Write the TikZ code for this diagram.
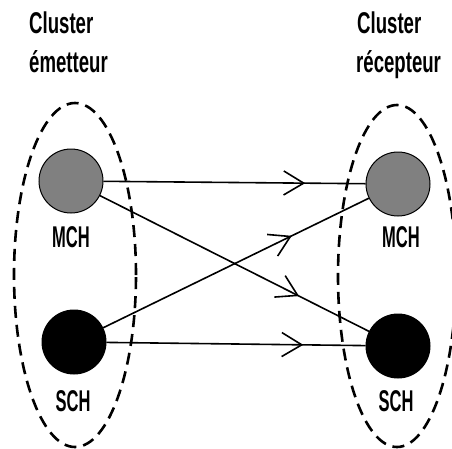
\documentclass[tikz,border=0pt]{standalone}
\usepackage{fontspec}
\setmainfont{Liberation Sans}
\newfontfamily\titlefont[FakeStretch=0.62]{Liberation Sans}
\newfontfamily\labelfont[FakeStretch=0.55]{Liberation Sans}
\usetikzlibrary{arrows.meta,decorations.markings}
\begin{document}
\begin{tikzpicture}[x=1pt,y=-1pt,
  cluster/.style={draw,line width=2.6pt,dash pattern=on 12pt off 7pt},
  mch/.style={circle,draw,line width=1pt,fill=black!50,minimum size=64pt,inner sep=0pt},
  sch/.style={circle,draw,line width=1pt,fill=black,minimum size=64pt,inner sep=0pt},
  ttl/.style={anchor=base west,inner sep=0pt,font=\titlefont\bfseries\fontsize{30}{33}\selectfont},
  lbl/.style={inner sep=0pt,font=\labelfont\bfseries\fontsize{30}{33}\selectfont},
  link/.style={line width=1.6pt,decoration={markings,mark=at position #1 with {\arrow{Straight Barb[length=20pt,width=24pt]}}},postaction=decorate}
]
\useasboundingbox (0,0) rectangle (452,448);
\draw[cluster] (75,275) ellipse [x radius=61pt, y radius=172pt];
\draw[cluster] (397,276) ellipse [x radius=59pt, y radius=171pt];
\node[ttl] (t1) at (29,33) {Cluster};
\node[ttl] (t2) at (29,72) {émetteur};
\node[ttl] (t3) at (357,33) {Cluster};
\node[ttl] (t4) at (356,72) {récepteur};
\node[mch] (lm) at (71,181) {};
\node[sch] (ls) at (74,342) {};
\node[mch] (rm) at (398,184) {};
\node[sch] (rs) at (398,346) {};
\node[lbl] (lml) at (71,237) {MCH};
\node[lbl] (lsl) at (73,401) {SCH};
\node[lbl] (rml) at (401,237) {MCH};
\node[lbl] (rsl) at (396,401) {SCH};
\draw[link=0.77] (lm) -- (rm);
\draw[link=0.76] (ls) -- (rs);
\draw[link=0.74] (lm) -- (rs);
\draw[link=0.71] (ls) -- (rm);
\end{tikzpicture}
\end{document}
